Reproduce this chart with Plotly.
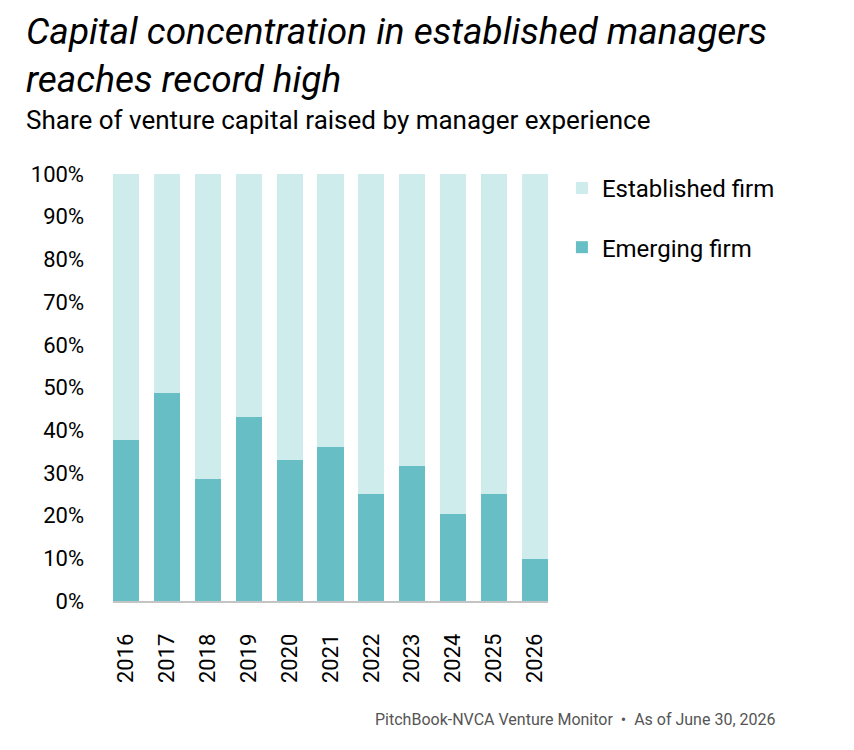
import plotly.graph_objects as go

# Datos
years = ['2016', '2017', '2018', '2019', '2020', '2021', '2022', '2023', '2024', '2025', '2026']
emerging = [37.8, 48.8, 28.6, 43.2, 33.0, 36.1, 25.1, 31.6, 20.3, 25.1, 9.8]
established = [62.2, 51.2, 71.4, 56.8, 67.0, 63.9, 74.9, 68.4, 79.7, 74.9, 90.2]
y_ticks = [0, 10, 20, 30, 40, 50, 60, 70, 80, 90, 100]
y_labels = ['0%', '10%', '20%', '30%', '40%', '50%', '60%', '70%', '80%', '90%', '100%']

fig = go.Figure()

fig.add_trace(go.Bar(
    x=years, y=emerging, name='Emerging firm',
    marker=dict(color='#67bfc5', line=dict(width=0)),
    legendgroup='b', legendrank=2
))
fig.add_trace(go.Bar(
    x=years, y=established, name='Established firm',
    marker=dict(color='#cdeceb', line=dict(width=0)),
    legendgroup='a', legendrank=1
))

fig.update_layout(
    width=854, height=750,
    margin=dict(l=105, r=314, t=166, b=157),
    barmode='stack', bargap=0.36,
    plot_bgcolor='white', paper_bgcolor='white',
    font=dict(family='Roboto', color='black'),
    legend=dict(
        x=1.032, y=1.019, xanchor='left', yanchor='top',
        traceorder='grouped', tracegroupgap=25,
        font=dict(size=24, color='black'),
        itemwidth=30
    ),
)

fig.update_yaxes(
    range=[0, 100], tickmode='array', tickvals=y_ticks, ticktext=y_labels,
    showgrid=False, zeroline=False, showline=False,
    tickfont=dict(size=22, color='black'), ticklabelstandoff=28
)
fig.update_xaxes(
    range=[-0.32, 10.32], tickangle=-90,
    showline=True, linecolor='#c4c4c4', linewidth=1.5,
    tickfont=dict(size=22, color='black'), ticklabelstandoff=22
)

# Títulos y fuente
fig.add_annotation(
    text='<i>Capital concentration in established managers<br>reaches record high</i>',
    xref='paper', yref='paper', x=-0.205, y=1.388,
    xanchor='left', yanchor='top', align='left', showarrow=False,
    font=dict(size=37, color='black', family='Roboto')
)
fig.add_annotation(
    text='Share of venture capital raised by manager experience',
    xref='paper', yref='paper', x=-0.205, y=1.126,
    xanchor='left', yanchor='middle', align='left', showarrow=False,
    font=dict(size=26, color='black', family='Roboto')
)
fig.add_annotation(
    text='PitchBook-NVCA Venture Monitor  •  As of June 30, 2026',
    xref='paper', yref='paper', x=1.526, y=-0.277,
    xanchor='right', yanchor='middle', showarrow=False,
    font=dict(size=16, color='#555555', family='Roboto')
)

fig.write_html('out.html')
